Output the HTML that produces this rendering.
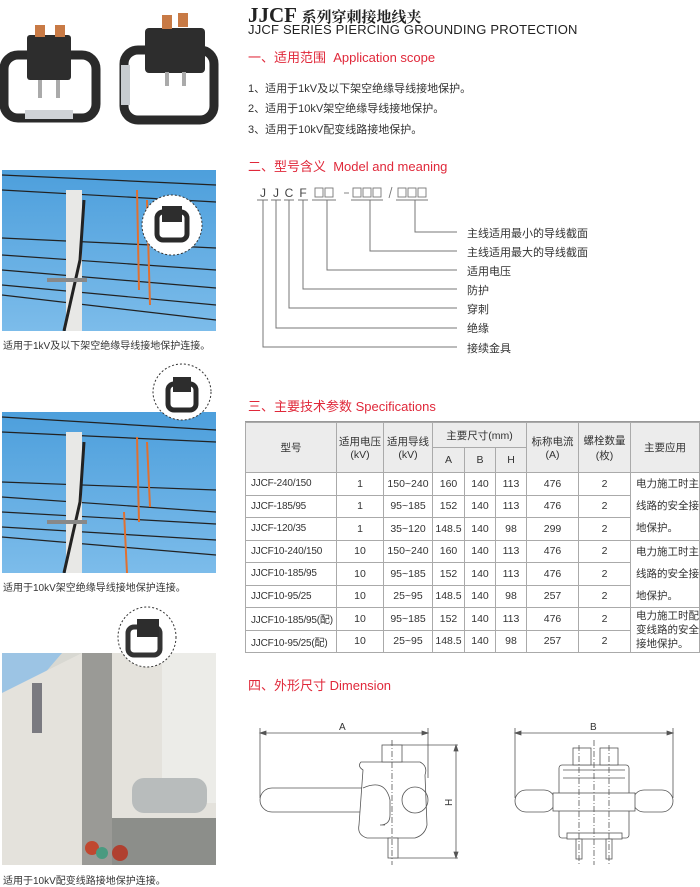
<!DOCTYPE html>
<html><head><meta charset="utf-8"><style>
*{margin:0;padding:0;box-sizing:border-box}
body{width:700px;height:884px;background:#fff;position:relative;overflow:hidden;font-family:"Liberation Sans","Noto Sans CJK SC",sans-serif;color:#333}
.a{position:absolute;white-space:nowrap}
.red{color:#e0283a;font-size:13px}
.li{font-size:11px;color:#333;left:248px}
.cap{font-size:10px;color:#333;left:3px}
.lab{font-size:11px;left:467px;color:#333}
table{border-collapse:collapse;position:absolute;left:245px;top:422px;width:455px;font-size:10.5px;color:#333;table-layout:fixed}
td{border:1px solid #aaa;text-align:center;height:22.5px;padding:0;white-space:nowrap;overflow:hidden}
tr.h td{background:#ececec;white-space:normal}
td.l{text-align:left;padding-left:5px;font-size:10px;letter-spacing:-0.2px}
.ap{text-align:left;padding-left:5px;line-height:22px;font-size:10.5px;white-space:normal}
</style></head><body>

<!-- Products top -->
<svg class="a" style="left:0;top:0" width="240" height="140">
 <rect x="4" y="55" width="92" height="63" rx="14" fill="none" stroke="#2a2a2a" stroke-width="9"/>
 <rect x="25" y="110" width="48" height="9" fill="#cfd2d6"/>
 <rect x="27" y="35" width="44" height="45" rx="3" fill="#2d2d2d"/>
 <rect x="35" y="25" width="10" height="12" fill="#c87a45"/><rect x="55" y="25" width="10" height="12" fill="#c87a45"/>
 <rect x="38" y="80" width="4" height="18" fill="#aaa"/><rect x="56" y="80" width="4" height="18" fill="#aaa"/>
 <rect x="124" y="50" width="90" height="70" rx="14" fill="none" stroke="#2a2a2a" stroke-width="9"/>
 <rect x="121" y="65" width="9" height="40" fill="#c8ccd0"/>
 <rect x="145" y="28" width="60" height="45" rx="4" fill="#2d2d2d"/>
 <rect x="162" y="15" width="10" height="14" fill="#c87a45"/><rect x="178" y="13" width="10" height="14" fill="#c87a45"/>
 <rect x="165" y="72" width="4" height="14" fill="#aaa"/><rect x="182" y="72" width="4" height="14" fill="#aaa"/>
</svg>

<!-- Photo 1 -->
<svg class="a" style="left:2px;top:170px" width="214" height="161">
 <defs><linearGradient id="sky" x1="0" y1="0" x2="0" y2="1"><stop offset="0" stop-color="#4d9fdc"/><stop offset="1" stop-color="#7cbcea"/></linearGradient></defs>
 <rect width="214" height="161" fill="url(#sky)"/>
 <g stroke="#222" stroke-width="1.2" fill="none">
  <path d="M0 5 L214 15"/><path d="M0 20 L214 32"/><path d="M0 68 L214 78"/><path d="M0 85 L214 100"/><path d="M0 100 L214 118"/><path d="M0 115 L214 135"/><path d="M0 125 L214 150"/>
 </g>
 <rect x="64" y="20" width="16" height="141" fill="#e8e8e6"/>
 <path d="M82 30 L78 90 L62 161" stroke="#222" stroke-width="3" fill="none"/>
 <rect x="45" y="108" width="40" height="4" fill="#888"/>
 <path d="M135 20 L137 120 M145 30 L148 135" stroke="#e07030" stroke-width="2"/>
 <circle cx="170" cy="55" r="30" fill="#fff" stroke="#333" stroke-dasharray="2,2"/>
 <rect x="155" y="42" width="30" height="28" rx="6" fill="none" stroke="#2a2a2a" stroke-width="5"/>
 <rect x="160" y="36" width="20" height="16" fill="#2d2d2d"/>
</svg>
<div class="a cap" style="top:337px">适用于1kV及以下架空绝缘导线接地保护连接。</div>

<!-- Photo 2 -->
<svg class="a" style="left:2px;top:412px" width="214" height="161">
 <rect width="214" height="161" fill="url(#sky)"/>
 <g stroke="#222" stroke-width="1.2" fill="none">
  <path d="M0 5 L214 18"/><path d="M0 20 L214 30"/><path d="M0 70 L214 78"/><path d="M0 85 L214 100"/><path d="M0 100 L214 112"/><path d="M0 115 L214 128"/><path d="M0 125 L214 143"/>
 </g>
 <rect x="64" y="20" width="16" height="141" fill="#e8e8e6"/>
 <path d="M82 30 L78 90 L62 161" stroke="#222" stroke-width="3" fill="none"/>
 <rect x="45" y="108" width="40" height="4" fill="#888"/>
 <path d="M135 25 L137 110 M145 30 L148 95 M122 100 L125 161" stroke="#e07030" stroke-width="2"/>
</svg>
<svg class="a" style="left:150px;top:362px" width="65" height="60">
 <ellipse cx="32" cy="30" rx="29" ry="28" fill="#fff" stroke="#333" stroke-dasharray="2,2"/>
 <rect x="18" y="22" width="28" height="26" rx="6" fill="none" stroke="#2a2a2a" stroke-width="5"/>
 <rect x="23" y="15" width="18" height="15" fill="#2d2d2d"/>
</svg>
<div class="a cap" style="top:579px">适用于10kV架空绝缘导线接地保护连接。</div>

<!-- Photo 3 -->
<svg class="a" style="left:2px;top:653px" width="214" height="212">
 <rect width="214" height="212" fill="#d8d8d2"/>
 <polygon points="0,0 60,0 0,70" fill="#9cc4e4"/>
 <polygon points="0,40 80,0 214,0 214,212 0,212" fill="#e4e2dc"/>
 <rect x="160" y="0" width="54" height="150" fill="#ecece8"/>
 <rect x="80" y="0" width="30" height="212" fill="#9a9a96"/>
 <rect x="130" y="125" width="75" height="35" rx="12" fill="#b8bcbc"/>
 <rect x="110" y="165" width="104" height="47" fill="#8c8e8a"/>
 <rect x="30" y="30" width="10" height="50" fill="#7a7a80"/>
 <circle cx="118" cy="200" r="8" fill="#b04030"/><circle cx="90" cy="195" r="7" fill="#c04830"/><circle cx="100" cy="200" r="6" fill="#4a9a80"/>
</svg>
<svg class="a" style="left:115px;top:605px" width="65" height="70">
 <ellipse cx="32" cy="32" rx="29" ry="30" fill="#fff" stroke="#333" stroke-dasharray="2,2"/>
 <rect x="13" y="22" width="32" height="28" rx="6" fill="none" stroke="#333" stroke-width="5"/>
 <rect x="22" y="14" width="22" height="18" fill="#2d2d2d"/>
</svg>
<div class="a cap" style="top:872px">适用于10kV配变线路接地保护连接。</div>

<!-- Title -->
<div class="a" style="left:248px;top:3px;font-family:'Liberation Serif','Noto Serif CJK SC',serif;font-weight:bold;font-size:21px;color:#222">JJCF <span style="font-size:15px">系列穿刺接地线夹</span></div>
<div class="a" style="left:248px;top:22px;font-size:13px;color:#222;letter-spacing:0.2px">JJCF SERIES PIERCING GROUNDING PROTECTION</div>

<div class="a red" style="left:248px;top:47px">一、适用范围&nbsp; Application scope</div>
<div class="a li" style="top:80px">1、适用于1kV及以下架空绝缘导线接地保护。</div>
<div class="a li" style="top:100px">2、适用于10kV架空绝缘导线接地保护。</div>
<div class="a li" style="top:121px">3、适用于10kV配变线路接地保护。</div>

<div class="a red" style="left:248px;top:156px">二、型号含义&nbsp; Model and meaning</div>
<svg class="a" style="left:245px;top:180px" width="215" height="175" font-family="Liberation Sans" font-size="12" fill="#444">
 <text x="18" y="17" text-anchor="middle">J</text>
 <text x="31" y="17" text-anchor="middle">J</text>
 <text x="44" y="17" text-anchor="middle">C</text>
 <text x="58" y="17" text-anchor="middle">F</text>
 <g fill="none" stroke="#777" stroke-width="0.9">
  <rect x="70" y="8" width="8" height="9"/><rect x="80" y="8" width="8" height="9"/>
  <rect x="108" y="8" width="8" height="9"/><rect x="118" y="8" width="8" height="9"/><rect x="128" y="8" width="8" height="9"/>
  <rect x="153" y="8" width="8" height="9"/><rect x="163" y="8" width="8" height="9"/><rect x="173" y="8" width="8" height="9"/>
  <path d="M99 13h5"/><path d="M147 7l-3 11"/>
 </g>
 <g stroke="#777" stroke-width="1" fill="none">
  <path d="M12 20h11M26 20h10M39 20h10M53 20h10M67 20h24M106 20h32M151 20h32"/>
  <path d="M170 20v32h42M125 20v51h87M82 20v70h130M58 20v89h154M44 20v108h168M31 20v128h181M18 20v147h194"/>
 </g>
</svg>
<div class="a lab" style="top:225px">主线适用最小的导线截面</div>
<div class="a lab" style="top:244px">主线适用最大的导线截面</div>
<div class="a lab" style="top:263px">适用电压</div>
<div class="a lab" style="top:282px">防护</div>
<div class="a lab" style="top:301px">穿刺</div>
<div class="a lab" style="top:320px">绝缘</div>
<div class="a lab" style="top:340px">接续金具</div>

<div class="a red" style="left:248px;top:396px">三、主要技术参数 Specifications</div>
<div class="a" style="left:245px;top:421px;width:455px;height:2px;background:#999"></div>
<table>
<colgroup><col style="width:91px"><col style="width:47px"><col style="width:49px"><col style="width:32px"><col style="width:31px"><col style="width:31px"><col style="width:52px"><col style="width:52px"><col></colgroup>
<tr class="h"><td rowspan="2" style="height:50px">型号</td><td rowspan="2">适用电压<br>(kV)</td><td rowspan="2">适用导线<br>(kV)</td><td colspan="3" style="height:25px">主要尺寸(mm)</td><td rowspan="2">标称电流<br>(A)</td><td rowspan="2">螺栓数量<br>(枚)</td><td rowspan="2">主要应用</td></tr>
<tr class="h"><td style="height:25px">A</td><td>B</td><td>H</td></tr>
<tr><td class="l">JJCF-240/150</td><td>1</td><td>150~240</td><td>160</td><td>140</td><td>113</td><td>476</td><td>2</td><td rowspan="3" class="ap">电力施工时主<br>线路的安全接<br>地保护。</td></tr>
<tr><td class="l">JJCF-185/95</td><td>1</td><td>95~185</td><td>152</td><td>140</td><td>113</td><td>476</td><td>2</td></tr>
<tr><td class="l">JJCF-120/35</td><td>1</td><td>35~120</td><td>148.5</td><td>140</td><td>98</td><td>299</td><td>2</td></tr>
<tr><td class="l">JJCF10-240/150</td><td>10</td><td>150~240</td><td>160</td><td>140</td><td>113</td><td>476</td><td>2</td><td rowspan="3" class="ap">电力施工时主<br>线路的安全接<br>地保护。</td></tr>
<tr><td class="l">JJCF10-185/95</td><td>10</td><td>95~185</td><td>152</td><td>140</td><td>113</td><td>476</td><td>2</td></tr>
<tr><td class="l">JJCF10-95/25</td><td>10</td><td>25~95</td><td>148.5</td><td>140</td><td>98</td><td>257</td><td>2</td></tr>
<tr><td class="l">JJCF10-185/95(配)</td><td>10</td><td>95~185</td><td>152</td><td>140</td><td>113</td><td>476</td><td>2</td><td rowspan="2" class="ap" style="line-height:14px">电力施工时配<br>变线路的安全<br>接地保护。</td></tr>
<tr><td class="l">JJCF10-95/25(配)</td><td>10</td><td>25~95</td><td>148.5</td><td>140</td><td>98</td><td>257</td><td>2</td></tr>
</table>

<div class="a red" style="left:248px;top:675px">四、外形尺寸 Dimension</div>

<svg class="a" style="left:245px;top:690px" width="455" height="194" font-family="Liberation Sans" font-size="10" fill="#333">
 <g stroke="#555" stroke-width="0.8" fill="none">
  <path d="M15 38v70M183 38v50M15 43h168"/>
  <path d="M15 43l6 -2v4zM183 43l-6 -2v4z" fill="#555"/>
  <path d="M145 55h68M145 168h68M211 55v113"/>
  <path d="M211 55l-2 6h4zM211 168l-2 -6h4z" fill="#555"/>
  <rect x="15" y="98" width="120" height="24" rx="12" fill="#fff"/>
  <path d="M118 80 Q112 76 116 72 L175 72 Q183 76 180 85 L182 135 Q180 145 170 148 L122 148 Q112 145 114 135 Z" fill="#fff"/>
  <rect x="137" y="55" width="20" height="17" fill="#fff"/>
  <rect x="143" y="148" width="10" height="20" fill="#fff"/>
  <circle cx="170" cy="110" r="13"/>
  <path d="M118 98 Q140 88 145 110 L145 125 Q145 135 135 135 L140 135"/>
  <path d="M147 50v125" stroke-dasharray="6,2,1,2"/>
  <path d="M270 38v70M428 38v70M270 43h158"/>
  <path d="M270 43l6 -2v4zM428 43l-6 -2v4z" fill="#555"/>
  <rect x="270" y="100" width="40" height="22" rx="11" fill="#fff"/>
  <rect x="388" y="100" width="40" height="22" rx="11" fill="#fff"/>
  <rect x="314" y="75" width="70" height="73" rx="3" fill="#fff"/>
  <rect x="308" y="103" width="82" height="18" fill="#fff"/>
  <rect x="328" y="58" width="18" height="17" fill="#fff"/>
  <rect x="355" y="58" width="18" height="17" fill="#fff"/>
  <path d="M318 80h62M318 88h62"/>
  <rect x="322" y="143" width="55" height="6" fill="#fff"/>
  <rect x="331" y="149" width="6" height="20" fill="#fff"/>
  <rect x="361" y="149" width="6" height="20" fill="#fff"/>
  <path d="M349 50v125M334 55v120M364 55v120" stroke-dasharray="6,2,1,2"/>
 </g>
 <text x="94" y="40">A</text>
 <text x="345" y="40">B</text>
 <text x="200" y="115" transform="rotate(-90 204 112)">H</text>
</svg>
</body></html>
